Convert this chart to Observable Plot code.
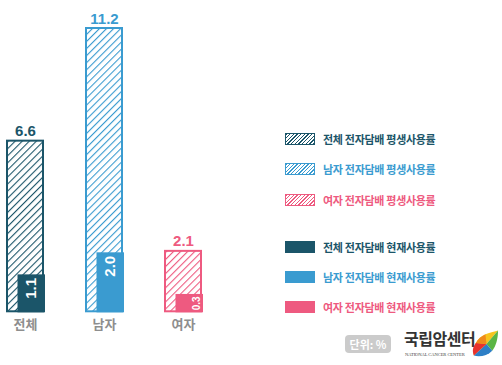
<!DOCTYPE html>
<html><head><meta charset="utf-8">
<script src="https://cdn.jsdelivr.net/npm/d3@7"></script>
<script src="https://cdn.jsdelivr.net/npm/@observablehq/plot@0.6"></script>
<style>
html,body{margin:0;padding:0;background:#fff;}
body{width:502px;height:365px;position:relative;overflow:hidden;font-family:"Noto Sans CJK KR","Noto Sans",sans-serif;}
#chart{position:absolute;left:0;top:0;}
#legend{position:absolute;left:285px;top:0;}
.li{position:absolute;left:0;display:flex;align-items:center;white-space:nowrap;}
.sw{width:28px;height:10px;border:1px solid;margin-right:8px;}
.lt{font-size:11px;font-weight:700;letter-spacing:-0.3px;}
#unit{position:absolute;left:345px;top:335px;width:46px;height:18px;border-radius:4px;background:#cbcbcb;color:#fff;font-size:11px;font-weight:700;text-align:center;line-height:18px;}
#logoK{position:absolute;left:404px;top:330px;font-size:16px;font-weight:700;color:#333;letter-spacing:-0.5px;line-height:16px;}
#logoE{position:absolute;left:405px;top:352px;font-family:"Liberation Serif",serif;font-size:4.6px;line-height:5px;color:#444;letter-spacing:-0.1px;white-space:nowrap;}
#mark{position:absolute;left:470px;top:329px;}
</style></head>
<body>
<div id="chart"></div>
<div id="legend"></div>
<div id="unit">단위: %</div>
<div id="logoK">국립암센터</div>
<div id="logoE">NATIONAL CANCER CENTER</div>
<svg id="mark" width="29" height="30" viewBox="0 0 30 30">
  <path d="M4 27 C2 18 8 8 16 5 C21 3 26 2 29 1 L17 15 Z" fill="#f7c51e"/>
  <path d="M29 1 C29 9 27 17 23 22 L17 15 Z" fill="#5bb544"/>
  <path d="M23 22 C18 27 10 29 4 27 L17 15 Z" fill="#2d7fc6"/>
  <path d="M4 27 C2 22 3 18 6 14 L17 15 Z" fill="#e8322e"/>
  <path d="M6 14 C8 10 12 7 16 5 L17 15 Z" fill="#f08a1c"/>
</svg>
<script>
const groups = ["전체", "남자", "여자"];
const lifetime = [6.6, 11.2, 2.1];
const current = [1.1, 2.0, 0.3];
const colors = ["#1b5569", "#3a9bd0", "#ee5a80"];
const legendLabels = [
  "전체 전자담배 평생사용률", "남자 전자담배 평생사용률", "여자 전자담배 평생사용률",
  "전체 전자담배 현재사용률", "남자 전자담배 현재사용률", "여자 전자담배 현재사용률"
];

const rows = groups.map((g, i) => ({group: g, lifetime: lifetime[i], current: current[i], color: colors[i], idx: i}));

const marks = [];
rows.forEach(r => {
  marks.push(Plot.barY([r], {x: "group", y: "lifetime", fill: `url(#hatch${r.idx})`, insetBottom: -9}));
  marks.push(Plot.barY([r], {x: "group", y: "lifetime", fill: "none", stroke: r.color, strokeWidth: 2, insetBottom: -9}));
  marks.push(Plot.barY([r], {x: "group", y: "current", fill: r.color, stroke: r.color, strokeWidth: 2, insetLeft: 11.5, insetRight: -1, insetBottom: -9}));
  marks.push(Plot.text([r], {x: "group", y: "lifetime", text: d => d.lifetime.toFixed(1), fill: r.color, fontSize: 15, fontWeight: 700, lineAnchor: "bottom", dy: -5}));
});
marks.push(Plot.text(rows.filter(d => d.current >= 1), {x: "group", y: "current", text: d => d.current.toFixed(1), rotate: -90, textAnchor: "end", dx: 6, dy: 2, fill: "#fff", fontSize: 15, fontWeight: 700}));
marks.push(Plot.text(rows.filter(d => d.current < 1), {x: "group", y: "current", text: d => d.current.toFixed(1), rotate: -90, textAnchor: "end", dx: 13, dy: 1, fill: "#fff", fontSize: 10, fontWeight: 700}));

const plot = Plot.plot({
  width: 260,
  height: 345,
  marginTop: 0, marginBottom: 0, marginLeft: 0, marginRight: 0,
  style: {fontFamily: "'Liberation Sans', Arial, sans-serif", background: "transparent"},
  x: {domain: groups, range: [7, 201.4], paddingInner: 0.545, paddingOuter: 0, axis: null},
  y: {domain: [0, 11.2], range: [302.3, 28], axis: null},
  marks: [
    ...marks,
    Plot.axisX({tickSize: 0, label: null, tickPadding: 0, fontSize: 13, dy: -26, fill: "#8e8e8e", fontWeight: 600, fontFamily: "'Noto Sans CJK KR', sans-serif"})
  ]
});

// hatch patterns
const svg = d3.select(plot.tagName === "svg" ? plot : plot.querySelector("svg"));
const defs = svg.insert("defs", ":first-child");
colors.forEach((c, i) => {
  const p = defs.append("pattern").attr("id", `hatch${i}`).attr("patternUnits", "userSpaceOnUse")
    .attr("width", 5).attr("height", 5).attr("patternTransform", "rotate(45)");
  p.append("rect").attr("width", 5).attr("height", 5).attr("fill", "#fff");
  p.append("line").attr("x1", 0).attr("y1", 0).attr("x2", 0).attr("y2", 5).attr("stroke", c).attr("stroke-width", 2.2);
});
document.getElementById("chart").appendChild(plot);

// legend
const legend = document.getElementById("legend");
const ys = [137.5, 168.3, 199.3, 246, 275.7, 306];
legendLabels.forEach((lab, i) => {
  const c = colors[i % 3];
  const d = document.createElement("div");
  d.className = "li";
  d.style.top = (ys[i] - 7) + "px";
  const sw = document.createElement("div");
  sw.className = "sw";
  sw.style.borderColor = c;
  if (i < 3) {
    sw.style.background = `repeating-linear-gradient(-45deg, ${c} 0px, ${c} 1px, #fff 1px, #fff 2.6px)`;
  } else {
    sw.style.background = c;
  }
  const t = document.createElement("span");
  t.className = "lt";
  t.style.color = c;
  t.textContent = lab;
  d.appendChild(sw); d.appendChild(t);
  legend.appendChild(d);
});
</script>
</body></html>
